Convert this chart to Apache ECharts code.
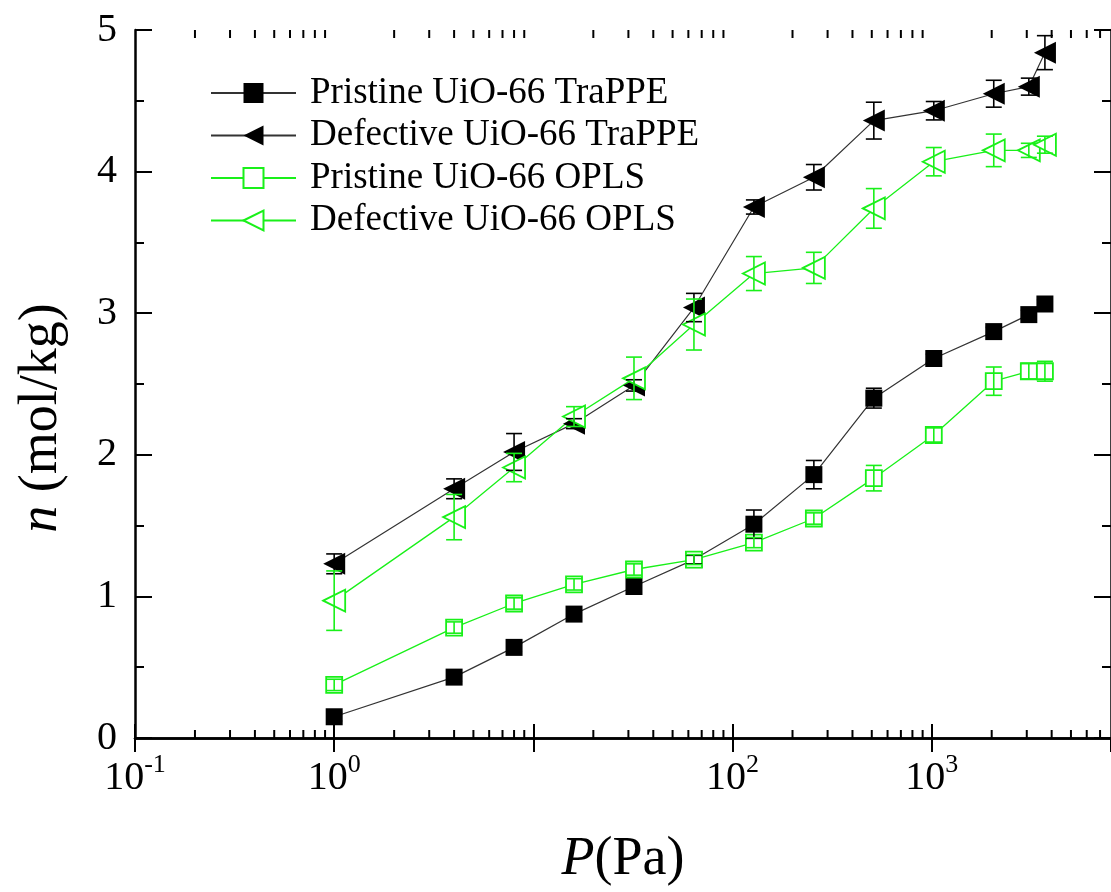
<!DOCTYPE html>
<html>
<head>
<meta charset="utf-8">
<script src="https://cdn.jsdelivr.net/npm/echarts@6/dist/echarts.min.js"></script>
<style>html,body{margin:0;padding:0;background:#fff;}#c{width:1111px;height:892px;}</style>
</head>
<body>
<div id="c"></div>
<script>
// ---- data ----
var pressure = [1, 4, 8, 16, 32, 64, 128, 256, 512, 1024, 2048, 3072, 3700];
var pristineTraPPE    = [0.15, 0.43, 0.64, 0.875, 1.07, 1.26, 1.51, 1.86, 2.40, 2.68, 2.87, 2.99, 3.065];
var pristineTraPPEErr = [0.03, 0.03, 0.03, 0.03, 0.03, 0.03, 0.10, 0.10, 0.07, 0.03, 0.03, 0.03, 0.03];
var defectTraPPE      = [1.23, 1.76, 2.02, 2.22, 2.49, 3.04, 3.75, 3.96, 4.36, 4.43, 4.55, 4.60, 4.84];
var defectTraPPEErr   = [0.07, 0.07, 0.13, 0.035, 0.04, 0.10, 0.05, 0.09, 0.13, 0.065, 0.095, 0.06, 0.12];
var pristineOPLS      = [0.375, 0.78, 0.95, 1.085, 1.19, 1.26, 1.38, 1.55, 1.835, 2.14, 2.52, 2.59, 2.59];
var pristineOPLSErr   = [0.04, 0.04, 0.04, 0.04, 0.04, 0.035, 0.036, 0.04, 0.09, 0.05, 0.10, 0.055, 0.07];
var defectOPLS        = [0.97, 1.56, 1.91, 2.27, 2.54, 2.92, 3.28, 3.32, 3.74, 4.07, 4.15, 4.15, 4.19];
var defectOPLSErr     = [0.21, 0.16, 0.10, 0.07, 0.15, 0.18, 0.12, 0.11, 0.14, 0.10, 0.115, 0.05, 0.06];
var seriesNames = ['Pristine UiO-66 TraPPE', 'Defective UiO-66 TraPPE', 'Pristine UiO-66 OPLS', 'Defective UiO-66 OPLS'];
var xMin = 0.1, xMax = Math.pow(10, 3.9);
var yMin = 0, yMax = 5, yStep = 1;
var hiddenDecadeLabels = [1];

// minor tick values for the log axis (2..9 x 10^k)
var minorTicks = [];
for (var k = -1; k <= 3; k++) {
  for (var m = 2; m <= 9; m++) {
    var v = m * Math.pow(10, k);
    if (v < xMax) minorTicks.push([v]);
  }
}

var FONT = 'Liberation Serif, Times New Roman, serif';
var BLACK = '#000000', GREEN = '#19f019';

function pairs(ys) { return pressure.map(function (x, i) { return [x, ys[i]]; }); }
function triples(ys, es) { return pressure.map(function (x, i) { return [x, ys[i], es[i]]; }); }

function errSeries(ys, es, color) {
  return {
    type: 'custom', silent: true, z: 4,
    xAxisIndex: 0, yAxisIndex: 0,
    data: triples(ys, es),
    renderItem: function (params, api) {
      var x = api.value(0), y = api.value(1), e = api.value(2);
      var top = api.coord([x, y + e]);
      var bot = api.coord([x, y - e]);
      var cw = 8;
      var st = { stroke: color, lineWidth: 1.6 };
      return {
        type: 'group',
        children: [
          { type: 'line', shape: { x1: top[0], y1: top[1], x2: bot[0], y2: bot[1] }, style: st },
          { type: 'line', shape: { x1: top[0] - cw, y1: top[1], x2: top[0] + cw, y2: top[1] }, style: st },
          { type: 'line', shape: { x1: bot[0] - cw, y1: bot[1], x2: bot[0] + cw, y2: bot[1] }, style: st }
        ]
      };
    }
  };
}

var chart = echarts.init(document.getElementById('c'), null, { renderer: 'canvas' });

function xLabel(value) {
  var lg = Math.log(value) / Math.LN10;
  var e = Math.round(lg);
  if (Math.abs(lg - e) > 1e-6) return '';
  if (hiddenDecadeLabels.indexOf(e) >= 0) return '';
  return '{b|10}{s|' + e + '}';
}

var axisLineStyle = { color: '#000', width: 2.5 };

var option = {
  animation: false,
  backgroundColor: '#fff',
  grid: { left: 135, top: 30, width: 980, height: 708, containLabel: false },
  legend: {
    data: seriesNames,
    orient: 'vertical',
    left: 205, top: 67,
    itemWidth: 85, itemHeight: 25, itemGap: 0.5,
    textStyle: { fontFamily: FONT, fontSize: 37, color: '#000', lineHeight: 42, padding: [0, 0, 0, 9] },
    selectedMode: false
  },
  xAxis: [
    {
      type: 'log', logBase: 10, min: xMin, max: xMax, position: 'bottom',
      name: '{i|P}(Pa)', nameLocation: 'middle', nameGap: 95,
      nameTextStyle: { fontFamily: FONT, fontSize: 54, color: '#000',
        rich: { i: { fontFamily: FONT, fontSize: 54, fontStyle: 'italic', color: '#000' } } },
      axisLine: { show: true, lineStyle: axisLineStyle },
      axisTick: { show: true, inside: true, length: 14, lineStyle: { color: '#000', width: 2 } },
      splitLine: { show: false },
      axisLabel: {
        show: true, margin: 14, showMaxLabel: false, formatter: xLabel, color: '#000',
        rich: {
          b: { fontFamily: FONT, fontSize: 40, color: '#000', lineHeight: 40, padding: [12, 0, 0, 0] },
          s: { fontFamily: FONT, fontSize: 26, color: '#000', lineHeight: 26, verticalAlign: 'top' }
        }
      }
    },
    {
      type: 'log', logBase: 10, min: xMin, max: xMax, position: 'top',
      axisLine: { show: true, lineStyle: axisLineStyle },
      axisTick: { show: true, inside: true, length: 14, lineStyle: { color: '#000', width: 2 } },
      axisLabel: { show: false }, splitLine: { show: false }
    }
  ],
  yAxis: [
    {
      type: 'value', min: yMin, max: yMax, interval: yStep, position: 'left',
      name: '{i|n} (mol/kg)', nameLocation: 'middle', nameGap: 66,
      nameTextStyle: { fontFamily: FONT, fontSize: 54, color: '#000', padding: [0, 68, 0, 0],
        rich: { i: { fontFamily: FONT, fontSize: 54, fontStyle: 'italic', color: '#000' } } },
      axisLine: { show: true, lineStyle: axisLineStyle },
      axisTick: { show: true, inside: true, length: 17, lineStyle: { color: '#000', width: 2 } },
      minorTick: { show: true, splitNumber: 2, length: 9, lineStyle: { color: '#000', width: 2 } },
      splitLine: { show: false }, minorSplitLine: { show: false },
      axisLabel: { fontFamily: FONT, fontSize: 40, color: '#000', margin: 18 }
    },
    {
      type: 'value', min: yMin, max: yMax, interval: yStep, position: 'right',
      axisLine: { show: true, lineStyle: axisLineStyle },
      axisTick: { show: true, inside: true, length: 17, lineStyle: { color: '#000', width: 2 } },
      minorTick: { show: true, splitNumber: 2, length: 9, lineStyle: { color: '#000', width: 2 } },
      splitLine: { show: false }, axisLabel: { show: false }
    }
  ],
  series: [
    {
      type: 'custom', silent: true, z: 5, xAxisIndex: 0, yAxisIndex: 0,
      data: minorTicks,
      renderItem: function (params, api) {
        var v = api.value(0);
        var b = api.coord([v, yMin]);
        var t = api.coord([v, yMax]);
        var st = { stroke: '#000', lineWidth: 2 };
        return { type: 'group', children: [
          { type: 'line', shape: { x1: b[0], y1: b[1], x2: b[0], y2: b[1] - 8 }, style: st },
          { type: 'line', shape: { x1: t[0], y1: t[1], x2: t[0], y2: t[1] + 8 }, style: st }
        ] };
      }
    },
    {
      name: seriesNames[0], type: 'line', data: pairs(pristineTraPPE),
      symbol: 'rect', symbolSize: 17,
      itemStyle: { color: BLACK },
      lineStyle: { color: '#333', width: 1.2 }
    },
    {
      name: seriesNames[1], type: 'line', data: pairs(defectTraPPE),
      symbol: 'triangle', symbolSize: [22, 22], symbolRotate: 90,
      itemStyle: { color: BLACK },
      lineStyle: { color: '#333', width: 1.2 }
    },
    {
      name: seriesNames[2], type: 'line', data: pairs(pristineOPLS),
      symbol: 'rect', symbolSize: 16,
      itemStyle: { color: '#fff', borderColor: GREEN, borderWidth: 1.8 },
      lineStyle: { color: GREEN, width: 1.3 }
    },
    {
      name: seriesNames[3], type: 'line', data: pairs(defectOPLS),
      symbol: 'triangle', symbolSize: [22, 22], symbolRotate: 90,
      itemStyle: { color: '#fff', borderColor: GREEN, borderWidth: 1.8 },
      lineStyle: { color: GREEN, width: 1.3 }
    },
    errSeries(pristineTraPPE, pristineTraPPEErr, BLACK),
    errSeries(defectTraPPE, defectTraPPEErr, BLACK),
    errSeries(pristineOPLS, pristineOPLSErr, GREEN),
    errSeries(defectOPLS, defectOPLSErr, GREEN)
  ]
};
chart.setOption(option);
</script>
</body>
</html>
